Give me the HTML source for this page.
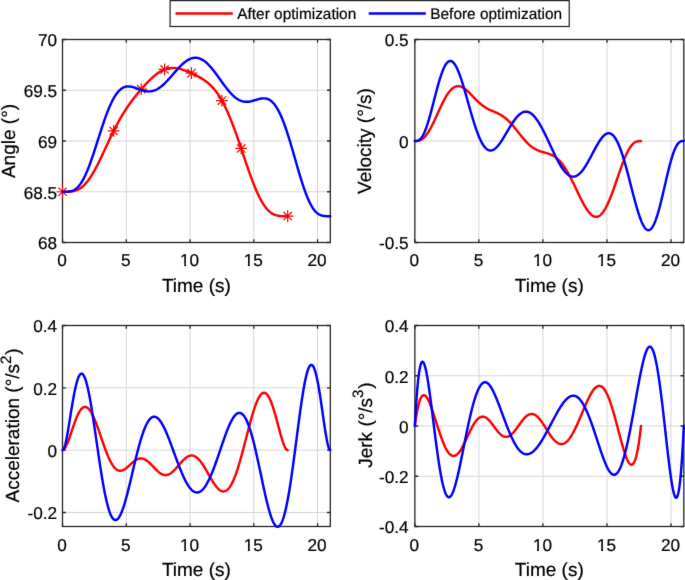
<!DOCTYPE html>
<html><head><meta charset="utf-8"><title>Trajectory optimization</title><style>
html,body{margin:0;padding:0;background:#fff;}
body{width:685px;height:580px;overflow:hidden;}
svg{display:block;will-change:transform;}
text{font-family:"Liberation Sans",sans-serif;fill:#000000;stroke:#000000;stroke-width:0.2px;text-rendering:geometricPrecision;}
</style></head><body>
<svg width="685" height="580" viewBox="0 0 685 580" font-size="17.2">
<defs><filter id="soft" x="0" y="0" width="685" height="580" filterUnits="userSpaceOnUse" color-interpolation-filters="sRGB"><feConvolveMatrix order="3" kernelMatrix="0.0052 0.0619 0.0052 0.0619 0.7314 0.0619 0.0052 0.0619 0.0052" edgeMode="duplicate" preserveAlpha="true"/></filter></defs>
<g filter="url(#soft)">
<rect width="685" height="580" fill="#fff"/>
<clipPath id="c0"><rect x="60.0" y="37.0" width="272.8" height="208.0"/></clipPath>
<line x1="126.3" y1="39.5" x2="126.3" y2="242.5" stroke="#d6d6d6"/>
<line x1="190.05" y1="39.5" x2="190.05" y2="242.5" stroke="#d6d6d6"/>
<line x1="253.8" y1="39.5" x2="253.8" y2="242.5" stroke="#d6d6d6"/>
<line x1="317.55" y1="39.5" x2="317.55" y2="242.5" stroke="#d6d6d6"/>
<line x1="62.5" y1="191.75" x2="330.3" y2="191.75" stroke="#d6d6d6"/>
<line x1="62.5" y1="141" x2="330.3" y2="141" stroke="#d6d6d6"/>
<line x1="62.5" y1="90.25" x2="330.3" y2="90.25" stroke="#d6d6d6"/>
<rect x="62.5" y="39.5" width="267.8" height="203.0" fill="none" stroke="#262626" stroke-width="1.3"/>
<text x="62.1" y="265.6" text-anchor="middle">0</text>
<text x="125.85" y="265.6" text-anchor="middle">5</text>
<text x="189.6" y="265.6" text-anchor="middle">10</text>
<text x="253.35" y="265.6" text-anchor="middle">15</text>
<text x="317.1" y="265.6" text-anchor="middle">20</text>
<text x="57.15" y="249.4" text-anchor="end">68</text>
<text x="57.15" y="198.7" text-anchor="end">68.5</text>
<text x="57.15" y="147.9" text-anchor="end">69</text>
<text x="57.15" y="97.2" text-anchor="end">69.5</text>
<text x="57.15" y="46.4" text-anchor="end">70</text>
<path d="M62.55,242.5v-3.3M62.55,39.5v3.3M126.3,242.5v-3.3M126.3,39.5v3.3M190.05,242.5v-3.3M190.05,39.5v3.3M253.8,242.5v-3.3M253.8,39.5v3.3M317.55,242.5v-3.3M317.55,39.5v3.3M62.5,242.5h3.3M330.3,242.5h-3.3M62.5,191.75h3.3M330.3,191.75h-3.3M62.5,141h3.3M330.3,141h-3.3M62.5,90.25h3.3M330.3,90.25h-3.3M62.5,39.5h3.3M330.3,39.5h-3.3" stroke="#262626" stroke-width="1.3" fill="none"/>
<text x="196.4" y="291.6" text-anchor="middle" font-size="19.0">Time (s)</text>
<text transform="translate(14.75,141.0) rotate(-90)" text-anchor="middle" font-size="19.0">Angle (°)</text>
<path d="M62.55,191.75 63.00,191.75 63.45,191.75 63.90,191.75 64.35,191.75 64.81,191.75 65.26,191.75 65.71,191.74 66.16,191.74 66.61,191.73 67.06,191.73 67.51,191.72 67.96,191.70 68.41,191.69 68.87,191.67 69.32,191.64 69.77,191.61 70.22,191.58 70.67,191.54 71.12,191.49 71.57,191.43 72.02,191.37 72.48,191.30 72.93,191.22 73.38,191.13 73.83,191.04 74.28,190.93 74.73,190.81 75.18,190.68 75.63,190.54 76.08,190.38 76.54,190.21 76.99,190.03 77.44,189.84 77.89,189.63 78.34,189.41 78.79,189.17 79.24,188.91 79.69,188.64 80.14,188.36 80.60,188.06 81.05,187.74 81.50,187.41 81.95,187.06 82.40,186.69 82.85,186.30 83.30,185.90 83.75,185.48 84.20,185.05 84.66,184.59 85.11,184.12 85.56,183.63 86.01,183.12 86.46,182.60 86.91,182.05 87.36,181.49 87.81,180.91 88.26,180.32 88.72,179.71 89.17,179.08 89.62,178.44 90.07,177.77 90.52,177.10 90.97,176.40 91.42,175.69 91.87,174.97 92.33,174.23 92.78,173.48 93.23,172.71 93.68,171.93 94.13,171.13 94.58,170.33 95.03,169.51 95.48,168.67 95.93,167.83 96.39,166.98 96.84,166.11 97.29,165.23 97.74,164.35 98.19,163.45 98.64,162.55 99.09,161.64 99.54,160.72 99.99,159.79 100.45,158.86 100.90,157.92 101.35,156.98 101.80,156.03 102.25,155.07 102.70,154.12 103.15,153.16 103.60,152.19 104.05,151.23 104.51,150.26 104.96,149.29 105.41,148.32 105.86,147.35 106.31,146.38 106.76,145.41 107.21,144.44 107.66,143.47 108.11,142.51 108.57,141.55 109.02,140.59 109.47,139.63 109.92,138.68 110.37,137.74 110.82,136.79 111.27,135.85 111.72,134.92 112.18,133.99 112.63,133.07 113.08,132.16 113.53,131.25 113.98,130.35 114.43,129.45 114.88,128.56 115.33,127.68 115.78,126.81 116.24,125.94 116.69,125.08 117.14,124.23 117.59,123.39 118.04,122.56 118.49,121.73 118.94,120.91 119.39,120.10 119.84,119.30 120.30,118.51 120.75,117.72 121.20,116.95 121.65,116.18 122.10,115.42 122.55,114.67 123.00,113.93 123.45,113.19 123.90,112.47 124.36,111.75 124.81,111.04 125.26,110.34 125.71,109.64 126.16,108.95 126.61,108.27 127.06,107.60 127.51,106.93 127.96,106.27 128.42,105.62 128.87,104.97 129.32,104.33 129.77,103.70 130.22,103.07 130.67,102.45 131.12,101.84 131.57,101.23 132.03,100.62 132.48,100.02 132.93,99.43 133.38,98.84 133.83,98.25 134.28,97.67 134.73,97.10 135.18,96.53 135.63,95.96 136.09,95.40 136.54,94.84 136.99,94.28 137.44,93.73 137.89,93.18 138.34,92.64 138.79,92.10 139.24,91.56 139.69,91.03 140.15,90.50 140.60,89.97 141.05,89.45 141.50,88.93 141.95,88.42 142.40,87.90 142.85,87.39 143.30,86.89 143.75,86.39 144.21,85.89 144.66,85.39 145.11,84.90 145.56,84.41 146.01,83.93 146.46,83.45 146.91,82.97 147.36,82.50 147.81,82.04 148.27,81.58 148.72,81.12 149.17,80.67 149.62,80.22 150.07,79.78 150.52,79.34 150.97,78.91 151.42,78.48 151.88,78.07 152.33,77.65 152.78,77.25 153.23,76.85 153.68,76.45 154.13,76.07 154.58,75.69 155.03,75.31 155.48,74.95 155.94,74.59 156.39,74.24 156.84,73.90 157.29,73.57 157.74,73.25 158.19,72.93 158.64,72.62 159.09,72.33 159.54,72.04 160.00,71.76 160.45,71.49 160.90,71.22 161.35,70.97 161.80,70.73 162.25,70.50 162.70,70.28 163.15,70.07 163.60,69.86 164.06,69.67 164.51,69.49 164.96,69.32 165.41,69.15 165.86,69.00 166.31,68.86 166.76,68.73 167.21,68.61 167.66,68.50 168.12,68.40 168.57,68.30 169.02,68.22 169.47,68.15 169.92,68.09 170.37,68.04 170.82,68.00 171.27,67.96 171.73,67.94 172.18,67.92 172.63,67.92 173.08,67.92 173.53,67.93 173.98,67.95 174.43,67.98 174.88,68.02 175.33,68.06 175.79,68.11 176.24,68.17 176.69,68.24 177.14,68.31 177.59,68.39 178.04,68.48 178.49,68.57 178.94,68.67 179.39,68.78 179.85,68.89 180.30,69.01 180.75,69.13 181.20,69.26 181.65,69.39 182.10,69.53 182.55,69.68 183.00,69.82 183.45,69.97 183.91,70.13 184.36,70.29 184.81,70.45 185.26,70.62 185.71,70.79 186.16,70.96 186.61,71.14 187.06,71.31 187.51,71.50 187.97,71.68 188.42,71.87 188.87,72.06 189.32,72.25 189.77,72.44 190.22,72.64 190.67,72.84 191.12,73.04 191.58,73.24 192.03,73.44 192.48,73.65 192.93,73.86 193.38,74.07 193.83,74.29 194.28,74.50 194.73,74.72 195.18,74.94 195.64,75.17 196.09,75.39 196.54,75.62 196.99,75.85 197.44,76.09 197.89,76.33 198.34,76.57 198.79,76.81 199.24,77.06 199.70,77.32 200.15,77.57 200.60,77.84 201.05,78.10 201.50,78.37 201.95,78.65 202.40,78.93 202.85,79.22 203.30,79.51 203.76,79.81 204.21,80.12 204.66,80.43 205.11,80.75 205.56,81.08 206.01,81.42 206.46,81.76 206.91,82.11 207.36,82.48 207.82,82.85 208.27,83.22 208.72,83.61 209.17,84.01 209.62,84.42 210.07,84.84 210.52,85.27 210.97,85.71 211.43,86.17 211.88,86.63 212.33,87.11 212.78,87.60 213.23,88.11 213.68,88.62 214.13,89.15 214.58,89.69 215.03,90.25 215.49,90.82 215.94,91.41 216.39,92.01 216.84,92.63 217.29,93.26 217.74,93.90 218.19,94.56 218.64,95.24 219.09,95.93 219.55,96.64 220.00,97.37 220.45,98.11 220.90,98.87 221.35,99.64 221.80,100.43 222.25,101.24 222.70,102.07 223.15,102.91 223.61,103.77 224.06,104.64 224.51,105.54 224.96,106.45 225.41,107.37 225.86,108.31 226.31,109.27 226.76,110.25 227.21,111.24 227.67,112.25 228.12,113.27 228.57,114.31 229.02,115.37 229.47,116.44 229.92,117.52 230.37,118.63 230.82,119.74 231.28,120.87 231.73,122.02 232.18,123.17 232.63,124.34 233.08,125.53 233.53,126.73 233.98,127.93 234.43,129.16 234.88,130.39 235.34,131.63 235.79,132.88 236.24,134.15 236.69,135.42 237.14,136.70 237.59,137.99 238.04,139.29 238.49,140.59 238.94,141.90 239.40,143.22 239.85,144.54 240.30,145.87 240.75,147.20 241.20,148.53 241.65,149.87 242.10,151.21 242.55,152.55 243.00,153.89 243.46,155.23 243.91,156.57 244.36,157.91 244.81,159.25 245.26,160.58 245.71,161.91 246.16,163.24 246.61,164.56 247.06,165.88 247.52,167.18 247.97,168.49 248.42,169.78 248.87,171.07 249.32,172.34 249.77,173.61 250.22,174.87 250.67,176.11 251.13,177.35 251.58,178.57 252.03,179.77 252.48,180.97 252.93,182.14 253.38,183.31 253.83,184.46 254.28,185.59 254.73,186.70 255.19,187.80 255.64,188.88 256.09,189.94 256.54,190.98 256.99,192.00 257.44,193.00 257.89,193.98 258.34,194.95 258.79,195.89 259.25,196.81 259.70,197.70 260.15,198.58 260.60,199.43 261.05,200.26 261.50,201.07 261.95,201.85 262.40,202.61 262.85,203.35 263.31,204.07 263.76,204.76 264.21,205.43 264.66,206.07 265.11,206.69 265.56,207.29 266.01,207.87 266.46,208.42 266.92,208.95 267.37,209.45 267.82,209.94 268.27,210.40 268.72,210.84 269.17,211.26 269.62,211.65 270.07,212.03 270.52,212.38 270.98,212.72 271.43,213.03 271.88,213.33 272.33,213.60 272.78,213.86 273.23,214.10 273.68,214.32 274.13,214.53 274.58,214.72 275.04,214.90 275.49,215.06 275.94,215.20 276.39,215.34 276.84,215.46 277.29,215.56 277.74,215.66 278.19,215.75 278.64,215.82 279.10,215.89 279.55,215.95 280.00,216.00 280.45,216.04 280.90,216.08 281.35,216.11 281.80,216.13 282.25,216.15 282.70,216.17 283.16,216.18 283.61,216.19 284.06,216.19 284.51,216.20 284.96,216.20 285.41,216.20 285.86,216.20 286.31,216.20 286.77,216.20 287.22,216.20 287.67,216.20" fill="none" stroke="#ff0000" stroke-width="2.45" stroke-linejoin="round" stroke-linecap="round" clip-path="url(#c0)"/>
<path d="M56.65,191.75h11.80M62.55,185.85v11.80M58.38,187.58l8.34,8.34M58.38,195.92l8.34,-8.34M107.77,130.96h11.80M113.67,125.06v11.80M109.50,126.78l8.34,8.34M109.50,135.13l8.34,-8.34M135.35,89.22h11.80M141.25,83.32v11.80M137.08,85.04l8.34,8.34M137.08,93.39l8.34,-8.34M158.69,69.46h11.80M164.59,63.56v11.80M160.42,65.29l8.34,8.34M160.42,73.63l8.34,-8.34M185.56,73.19h11.80M191.46,67.29v11.80M187.28,69.01l8.34,8.34M187.28,77.36l8.34,-8.34M215.96,100.54h11.80M221.86,94.64v11.80M217.69,96.37l8.34,8.34M217.69,104.71l8.34,-8.34M235.26,148.41h11.80M241.16,142.51v11.80M236.99,144.23l8.34,8.34M236.99,152.58l8.34,-8.34M281.77,216.20h11.80M287.67,210.30v11.80M283.50,212.03l8.34,8.34M283.50,220.38l8.34,-8.34" stroke="#ff0000" stroke-width="1.2" fill="none"/>
<path d="M62.55,191.75 63.09,191.75 63.62,191.75 64.16,191.75 64.70,191.75 65.23,191.74 65.77,191.74 66.31,191.72 66.84,191.70 67.38,191.68 67.92,191.64 68.45,191.60 68.99,191.54 69.53,191.47 70.06,191.38 70.60,191.27 71.14,191.14 71.67,190.99 72.21,190.81 72.74,190.61 73.28,190.38 73.82,190.12 74.35,189.83 74.89,189.50 75.43,189.15 75.96,188.75 76.50,188.32 77.04,187.85 77.57,187.34 78.11,186.79 78.65,186.19 79.18,185.56 79.72,184.88 80.26,184.16 80.79,183.40 81.33,182.59 81.87,181.74 82.40,180.84 82.94,179.90 83.48,178.91 84.01,177.89 84.55,176.82 85.09,175.70 85.62,174.55 86.16,173.36 86.70,172.12 87.23,170.85 87.77,169.54 88.31,168.20 88.84,166.82 89.38,165.40 89.92,163.96 90.45,162.49 90.99,160.99 91.52,159.46 92.06,157.91 92.60,156.33 93.13,154.74 93.67,153.12 94.21,151.49 94.74,149.85 95.28,148.19 95.82,146.53 96.35,144.85 96.89,143.17 97.43,141.49 97.96,139.80 98.50,138.12 99.04,136.44 99.57,134.76 100.11,133.09 100.65,131.43 101.18,129.78 101.72,128.14 102.26,126.52 102.79,124.91 103.33,123.32 103.87,121.76 104.40,120.21 104.94,118.69 105.48,117.19 106.01,115.72 106.55,114.28 107.09,112.86 107.62,111.48 108.16,110.13 108.70,108.81 109.23,107.53 109.77,106.28 110.31,105.07 110.84,103.89 111.38,102.75 111.91,101.65 112.45,100.59 112.99,99.57 113.52,98.58 114.06,97.64 114.60,96.74 115.13,95.87 115.67,95.05 116.21,94.27 116.74,93.53 117.28,92.82 117.82,92.16 118.35,91.54 118.89,90.95 119.43,90.41 119.96,89.90 120.50,89.43 121.04,89.00 121.57,88.61 122.11,88.25 122.65,87.92 123.18,87.63 123.72,87.38 124.26,87.15 124.79,86.96 125.33,86.80 125.87,86.67 126.40,86.56 126.94,86.48 127.48,86.43 128.01,86.40 128.55,86.40 129.09,86.42 129.62,86.46 130.16,86.52 130.69,86.60 131.23,86.69 131.77,86.80 132.30,86.93 132.84,87.07 133.38,87.22 133.91,87.38 134.45,87.55 134.99,87.73 135.52,87.92 136.06,88.11 136.60,88.30 137.13,88.50 137.67,88.70 138.21,88.90 138.74,89.10 139.28,89.30 139.82,89.49 140.35,89.69 140.89,89.87 141.43,90.05 141.96,90.22 142.50,90.39 143.04,90.54 143.57,90.69 144.11,90.82 144.65,90.94 145.18,91.05 145.72,91.15 146.26,91.23 146.79,91.30 147.33,91.35 147.87,91.39 148.40,91.41 148.94,91.41 149.47,91.40 150.01,91.37 150.55,91.32 151.08,91.25 151.62,91.16 152.16,91.06 152.69,90.94 153.23,90.79 153.77,90.63 154.30,90.45 154.84,90.25 155.38,90.03 155.91,89.79 156.45,89.53 156.99,89.25 157.52,88.96 158.06,88.64 158.60,88.31 159.13,87.96 159.67,87.59 160.21,87.20 160.74,86.80 161.28,86.38 161.82,85.95 162.35,85.50 162.89,85.03 163.43,84.55 163.96,84.06 164.50,83.55 165.04,83.03 165.57,82.50 166.11,81.96 166.65,81.41 167.18,80.85 167.72,80.28 168.25,79.70 168.79,79.11 169.33,78.52 169.86,77.92 170.40,77.31 170.94,76.70 171.47,76.09 172.01,75.48 172.55,74.86 173.08,74.24 173.62,73.63 174.16,73.01 174.69,72.39 175.23,71.78 175.77,71.17 176.30,70.57 176.84,69.97 177.38,69.37 177.91,68.79 178.45,68.21 178.99,67.63 179.52,67.07 180.06,66.52 180.60,65.98 181.13,65.45 181.67,64.93 182.21,64.42 182.74,63.93 183.28,63.45 183.82,62.99 184.35,62.54 184.89,62.11 185.43,61.70 185.96,61.31 186.50,60.93 187.03,60.57 187.57,60.23 188.11,59.91 188.64,59.61 189.18,59.33 189.72,59.08 190.25,58.84 190.79,58.63 191.33,58.44 191.86,58.27 192.40,58.12 192.94,58.00 193.47,57.90 194.01,57.83 194.55,57.78 195.08,57.75 195.62,57.75 196.16,57.77 196.69,57.82 197.23,57.89 197.77,57.98 198.30,58.10 198.84,58.24 199.38,58.41 199.91,58.61 200.45,58.82 200.99,59.06 201.52,59.32 202.06,59.61 202.60,59.92 203.13,60.25 203.67,60.61 204.21,60.99 204.74,61.39 205.28,61.81 205.82,62.25 206.35,62.71 206.89,63.19 207.42,63.69 207.96,64.21 208.50,64.75 209.03,65.30 209.57,65.87 210.11,66.46 210.64,67.07 211.18,67.68 211.72,68.32 212.25,68.96 212.79,69.62 213.33,70.30 213.86,70.98 214.40,71.67 214.94,72.37 215.47,73.08 216.01,73.80 216.55,74.53 217.08,75.26 217.62,76.00 218.16,76.74 218.69,77.48 219.23,78.23 219.77,78.98 220.30,79.73 220.84,80.48 221.38,81.23 221.91,81.97 222.45,82.72 222.99,83.46 223.52,84.19 224.06,84.92 224.60,85.64 225.13,86.36 225.67,87.07 226.20,87.76 226.74,88.45 227.28,89.13 227.81,89.79 228.35,90.45 228.89,91.09 229.42,91.71 229.96,92.33 230.50,92.92 231.03,93.51 231.57,94.07 232.11,94.62 232.64,95.15 233.18,95.66 233.72,96.15 234.25,96.63 234.79,97.08 235.33,97.52 235.86,97.93 236.40,98.32 236.94,98.70 237.47,99.05 238.01,99.38 238.55,99.69 239.08,99.98 239.62,100.24 240.16,100.49 240.69,100.71 241.23,100.92 241.77,101.10 242.30,101.26 242.84,101.39 243.38,101.51 243.91,101.61 244.45,101.69 244.98,101.75 245.52,101.79 246.06,101.81 246.59,101.82 247.13,101.80 247.67,101.77 248.20,101.73 248.74,101.67 249.28,101.59 249.81,101.51 250.35,101.41 250.89,101.30 251.42,101.17 251.96,101.04 252.50,100.91 253.03,100.76 253.57,100.61 254.11,100.45 254.64,100.29 255.18,100.13 255.72,99.96 256.25,99.80 256.79,99.64 257.33,99.48 257.86,99.33 258.40,99.18 258.94,99.04 259.47,98.91 260.01,98.79 260.55,98.68 261.08,98.58 261.62,98.50 262.16,98.43 262.69,98.38 263.23,98.35 263.76,98.35 264.30,98.36 264.84,98.40 265.37,98.46 265.91,98.54 266.45,98.66 266.98,98.80 267.52,98.98 268.06,99.18 268.59,99.42 269.13,99.69 269.67,99.99 270.20,100.34 270.74,100.71 271.28,101.13 271.81,101.58 272.35,102.08 272.89,102.61 273.42,103.19 273.96,103.81 274.50,104.47 275.03,105.17 275.57,105.92 276.11,106.71 276.64,107.54 277.18,108.42 277.72,109.34 278.25,110.30 278.79,111.31 279.33,112.37 279.86,113.46 280.40,114.61 280.94,115.79 281.47,117.02 282.01,118.29 282.54,119.60 283.08,120.95 283.62,122.34 284.15,123.77 284.69,125.23 285.23,126.74 285.76,128.27 286.30,129.85 286.84,131.45 287.37,133.09 287.91,134.75 288.45,136.45 288.98,138.17 289.52,139.91 290.06,141.68 290.59,143.47 291.13,145.27 291.67,147.09 292.20,148.93 292.74,150.78 293.28,152.64 293.81,154.51 294.35,156.38 294.89,158.26 295.42,160.13 295.96,162.01 296.50,163.88 297.03,165.74 297.57,167.60 298.11,169.45 298.64,171.28 299.18,173.09 299.72,174.89 300.25,176.67 300.79,178.43 301.33,180.16 301.86,181.86 302.40,183.53 302.93,185.18 303.47,186.79 304.01,188.36 304.54,189.90 305.08,191.40 305.62,192.86 306.15,194.28 306.69,195.66 307.23,196.99 307.76,198.28 308.30,199.52 308.84,200.72 309.37,201.86 309.91,202.96 310.45,204.01 310.98,205.01 311.52,205.97 312.06,206.87 312.59,207.72 313.13,208.53 313.67,209.29 314.20,209.99 314.74,210.66 315.28,211.27 315.81,211.84 316.35,212.37 316.89,212.85 317.42,213.29 317.96,213.69 318.50,214.06 319.03,214.38 319.57,214.67 320.11,214.93 320.64,215.15 321.18,215.35 321.71,215.52 322.25,215.66 322.79,215.79 323.32,215.89 323.86,215.97 324.40,216.04 324.93,216.09 325.47,216.13 326.01,216.15 326.54,216.17 327.08,216.19 327.62,216.20 328.15,216.20 328.69,216.20 329.23,216.20 329.76,216.20 330.30,216.20" fill="none" stroke="#0000ff" stroke-width="2.45" stroke-linejoin="round" stroke-linecap="round" clip-path="url(#c0)"/>
<clipPath id="c1"><rect x="412.35" y="37.0" width="273.94999999999993" height="208.0"/></clipPath>
<line x1="478.89" y1="39.5" x2="478.89" y2="242.5" stroke="#d6d6d6"/>
<line x1="542.92" y1="39.5" x2="542.92" y2="242.5" stroke="#d6d6d6"/>
<line x1="606.96" y1="39.5" x2="606.96" y2="242.5" stroke="#d6d6d6"/>
<line x1="670.99" y1="39.5" x2="670.99" y2="242.5" stroke="#d6d6d6"/>
<line x1="414.85" y1="141" x2="683.8" y2="141" stroke="#d6d6d6"/>
<rect x="414.85" y="39.5" width="268.94999999999993" height="203.0" fill="none" stroke="#262626" stroke-width="1.3"/>
<text x="414.4" y="265.6" text-anchor="middle">0</text>
<text x="478.44" y="265.6" text-anchor="middle">5</text>
<text x="542.47" y="265.6" text-anchor="middle">10</text>
<text x="606.51" y="265.6" text-anchor="middle">15</text>
<text x="670.54" y="265.6" text-anchor="middle">20</text>
<text x="408.55" y="249.4" text-anchor="end">-0.5</text>
<text x="408.55" y="147.9" text-anchor="end">0</text>
<text x="408.55" y="46.4" text-anchor="end">0.5</text>
<path d="M414.85,242.5v-3.3M414.85,39.5v3.3M478.89,242.5v-3.3M478.89,39.5v3.3M542.92,242.5v-3.3M542.92,39.5v3.3M606.96,242.5v-3.3M606.96,39.5v3.3M670.99,242.5v-3.3M670.99,39.5v3.3M414.85,242.5h3.3M683.8,242.5h-3.3M414.85,141h3.3M683.8,141h-3.3M414.85,39.5h3.3M683.8,39.5h-3.3" stroke="#262626" stroke-width="1.3" fill="none"/>
<text x="549.3" y="291.6" text-anchor="middle" font-size="19.0">Time (s)</text>
<text transform="translate(371.00,141.0) rotate(-90)" text-anchor="middle" font-size="19.0">Velocity (°/s)</text>
<path d="M414.85,141.00 415.30,141.00 415.76,141.00 416.21,140.98 416.66,140.96 417.12,140.93 417.57,140.88 418.02,140.82 418.48,140.74 418.93,140.63 419.38,140.50 419.83,140.35 420.29,140.17 420.74,139.97 421.19,139.73 421.65,139.47 422.10,139.18 422.55,138.85 423.01,138.50 423.46,138.12 423.91,137.70 424.37,137.26 424.82,136.78 425.27,136.27 425.73,135.73 426.18,135.16 426.63,134.57 427.09,133.94 427.54,133.28 427.99,132.60 428.44,131.89 428.90,131.15 429.35,130.39 429.80,129.61 430.26,128.80 430.71,127.97 431.16,127.12 431.62,126.25 432.07,125.36 432.52,124.45 432.98,123.54 433.43,122.60 433.88,121.65 434.34,120.70 434.79,119.73 435.24,118.75 435.70,117.77 436.15,116.78 436.60,115.79 437.05,114.79 437.51,113.80 437.96,112.80 438.41,111.81 438.87,110.81 439.32,109.83 439.77,108.85 440.23,107.87 440.68,106.91 441.13,105.95 441.59,105.01 442.04,104.08 442.49,103.16 442.95,102.26 443.40,101.37 443.85,100.50 444.31,99.65 444.76,98.82 445.21,98.01 445.66,97.22 446.12,96.45 446.57,95.71 447.02,94.99 447.48,94.29 447.93,93.62 448.38,92.98 448.84,92.36 449.29,91.77 449.74,91.21 450.20,90.68 450.65,90.17 451.10,89.70 451.56,89.25 452.01,88.84 452.46,88.45 452.92,88.10 453.37,87.77 453.82,87.48 454.27,87.21 454.73,86.98 455.18,86.77 455.63,86.60 456.09,86.45 456.54,86.34 456.99,86.25 457.45,86.19 457.90,86.17 458.35,86.16 458.81,86.19 459.26,86.25 459.71,86.32 460.17,86.43 460.62,86.56 461.07,86.72 461.53,86.90 461.98,87.10 462.43,87.32 462.88,87.57 463.34,87.83 463.79,88.12 464.24,88.42 464.70,88.74 465.15,89.08 465.60,89.43 466.06,89.80 466.51,90.18 466.96,90.58 467.42,90.98 467.87,91.40 468.32,91.83 468.78,92.27 469.23,92.71 469.68,93.16 470.14,93.62 470.59,94.08 471.04,94.55 471.49,95.02 471.95,95.49 472.40,95.96 472.85,96.44 473.31,96.91 473.76,97.38 474.21,97.86 474.67,98.32 475.12,98.79 475.57,99.25 476.03,99.71 476.48,100.16 476.93,100.61 477.39,101.05 477.84,101.48 478.29,101.91 478.75,102.32 479.20,102.74 479.65,103.14 480.10,103.53 480.56,103.92 481.01,104.29 481.46,104.66 481.92,105.02 482.37,105.37 482.82,105.70 483.28,106.03 483.73,106.35 484.18,106.66 484.64,106.97 485.09,107.26 485.54,107.54 486.00,107.82 486.45,108.08 486.90,108.34 487.36,108.59 487.81,108.84 488.26,109.07 488.71,109.30 489.17,109.53 489.62,109.74 490.07,109.96 490.53,110.16 490.98,110.37 491.43,110.57 491.89,110.77 492.34,110.96 492.79,111.15 493.25,111.35 493.70,111.54 494.15,111.73 494.61,111.92 495.06,112.12 495.51,112.31 495.97,112.51 496.42,112.71 496.87,112.92 497.32,113.13 497.78,113.34 498.23,113.56 498.68,113.79 499.14,114.02 499.59,114.26 500.04,114.51 500.50,114.76 500.95,115.03 501.40,115.30 501.86,115.58 502.31,115.87 502.76,116.17 503.22,116.48 503.67,116.80 504.12,117.14 504.58,117.48 505.03,117.83 505.48,118.20 505.93,118.57 506.39,118.96 506.84,119.35 507.29,119.76 507.75,120.18 508.20,120.61 508.65,121.05 509.11,121.50 509.56,121.96 510.01,122.43 510.47,122.91 510.92,123.40 511.37,123.90 511.83,124.41 512.28,124.92 512.73,125.45 513.19,125.98 513.64,126.51 514.09,127.06 514.54,127.61 515.00,128.16 515.45,128.72 515.90,129.28 516.36,129.85 516.81,130.42 517.26,130.99 517.72,131.56 518.17,132.14 518.62,132.71 519.08,133.28 519.53,133.86 519.98,134.43 520.44,134.99 520.89,135.56 521.34,136.12 521.80,136.68 522.25,137.23 522.70,137.78 523.15,138.32 523.61,138.85 524.06,139.38 524.51,139.90 524.97,140.41 525.42,140.91 525.87,141.40 526.33,141.89 526.78,142.36 527.23,142.82 527.69,143.28 528.14,143.72 528.59,144.15 529.05,144.57 529.50,144.98 529.95,145.37 530.41,145.76 530.86,146.13 531.31,146.49 531.76,146.84 532.22,147.17 532.67,147.50 533.12,147.81 533.58,148.11 534.03,148.40 534.48,148.67 534.94,148.94 535.39,149.19 535.84,149.43 536.30,149.66 536.75,149.89 537.20,150.10 537.66,150.30 538.11,150.49 538.56,150.68 539.02,150.85 539.47,151.02 539.92,151.18 540.37,151.33 540.83,151.48 541.28,151.63 541.73,151.76 542.19,151.90 542.64,152.03 543.09,152.15 543.55,152.28 544.00,152.40 544.45,152.53 544.91,152.65 545.36,152.77 545.81,152.90 546.27,153.02 546.72,153.15 547.17,153.29 547.63,153.42 548.08,153.57 548.53,153.72 548.99,153.87 549.44,154.03 549.89,154.20 550.34,154.38 550.80,154.57 551.25,154.77 551.70,154.98 552.16,155.20 552.61,155.43 553.06,155.68 553.52,155.93 553.97,156.20 554.42,156.49 554.88,156.79 555.33,157.10 555.78,157.43 556.24,157.78 556.69,158.14 557.14,158.52 557.60,158.91 558.05,159.32 558.50,159.75 558.95,160.20 559.41,160.67 559.86,161.15 560.31,161.65 560.77,162.17 561.22,162.71 561.67,163.26 562.13,163.84 562.58,164.43 563.03,165.04 563.49,165.67 563.94,166.31 564.39,166.98 564.85,167.66 565.30,168.36 565.75,169.08 566.21,169.81 566.66,170.56 567.11,171.32 567.56,172.10 568.02,172.90 568.47,173.71 568.92,174.53 569.38,175.37 569.83,176.22 570.28,177.08 570.74,177.95 571.19,178.84 571.64,179.73 572.10,180.63 572.55,181.55 573.00,182.47 573.46,183.39 573.91,184.33 574.36,185.27 574.82,186.21 575.27,187.16 575.72,188.11 576.17,189.06 576.63,190.01 577.08,190.96 577.53,191.91 577.99,192.86 578.44,193.80 578.89,194.74 579.35,195.67 579.80,196.60 580.25,197.52 580.71,198.43 581.16,199.33 581.61,200.23 582.07,201.10 582.52,201.97 582.97,202.82 583.43,203.66 583.88,204.48 584.33,205.28 584.78,206.06 585.24,206.83 585.69,207.57 586.14,208.29 586.60,208.99 587.05,209.67 587.50,210.32 587.96,210.94 588.41,211.54 588.86,212.11 589.32,212.66 589.77,213.17 590.22,213.65 590.68,214.10 591.13,214.52 591.58,214.91 592.04,215.26 592.49,215.58 592.94,215.86 593.39,216.11 593.85,216.32 594.30,216.50 594.75,216.63 595.21,216.73 595.66,216.79 596.11,216.81 596.57,216.79 597.02,216.74 597.47,216.64 597.93,216.50 598.38,216.32 598.83,216.10 599.29,215.84 599.74,215.54 600.19,215.20 600.65,214.82 601.10,214.40 601.55,213.94 602.00,213.43 602.46,212.89 602.91,212.31 603.36,211.69 603.82,211.04 604.27,210.34 604.72,209.61 605.18,208.84 605.63,208.03 606.08,207.19 606.54,206.32 606.99,205.41 607.44,204.47 607.90,203.50 608.35,202.50 608.80,201.47 609.26,200.41 609.71,199.33 610.16,198.21 610.61,197.08 611.07,195.92 611.52,194.74 611.97,193.54 612.43,192.32 612.88,191.08 613.33,189.83 613.79,188.56 614.24,187.28 614.69,185.99 615.15,184.69 615.60,183.39 616.05,182.07 616.51,180.75 616.96,179.43 617.41,178.11 617.87,176.79 618.32,175.47 618.77,174.16 619.22,172.85 619.68,171.55 620.13,170.25 620.58,168.97 621.04,167.71 621.49,166.45 621.94,165.22 622.40,164.00 622.85,162.80 623.30,161.62 623.76,160.47 624.21,159.34 624.66,158.23 625.12,157.16 625.57,156.11 626.02,155.09 626.48,154.10 626.93,153.15 627.38,152.22 627.83,151.33 628.29,150.48 628.74,149.67 629.19,148.89 629.65,148.14 630.10,147.44 630.55,146.77 631.01,146.15 631.46,145.56 631.91,145.01 632.37,144.50 632.82,144.03 633.27,143.60 633.73,143.21 634.18,142.85 634.63,142.53 635.09,142.25 635.54,142.00 635.99,141.78 636.44,141.60 636.90,141.44 637.35,141.32 637.80,141.22 638.26,141.14 638.71,141.08 639.16,141.04 639.62,141.02 640.07,141.01 640.52,141.00 640.98,141.00" fill="none" stroke="#ff0000" stroke-width="2.45" stroke-linejoin="round" stroke-linecap="round" clip-path="url(#c1)"/>
<path d="M414.85,141.00 415.39,141.00 415.93,140.98 416.47,140.94 417.01,140.86 417.54,140.73 418.08,140.54 418.62,140.29 419.16,139.97 419.70,139.57 420.24,139.09 420.78,138.53 421.32,137.87 421.86,137.13 422.40,136.29 422.93,135.37 423.47,134.35 424.01,133.24 424.55,132.04 425.09,130.75 425.63,129.38 426.17,127.92 426.71,126.39 427.25,124.79 427.79,123.11 428.32,121.37 428.86,119.56 429.40,117.71 429.94,115.80 430.48,113.85 431.02,111.85 431.56,109.83 432.10,107.78 432.64,105.71 433.18,103.62 433.71,101.53 434.25,99.43 434.79,97.34 435.33,95.26 435.87,93.19 436.41,91.14 436.95,89.13 437.49,87.14 438.03,85.20 438.57,83.30 439.10,81.45 439.64,79.66 440.18,77.92 440.72,76.25 441.26,74.65 441.80,73.12 442.34,71.67 442.88,70.30 443.42,69.01 443.95,67.81 444.49,66.69 445.03,65.68 445.57,64.75 446.11,63.92 446.65,63.19 447.19,62.56 447.73,62.03 448.27,61.60 448.81,61.27 449.34,61.05 449.88,60.93 450.42,60.90 450.96,60.98 451.50,61.16 452.04,61.44 452.58,61.82 453.12,62.29 453.66,62.85 454.20,63.51 454.73,64.26 455.27,65.09 455.81,66.01 456.35,67.01 456.89,68.09 457.43,69.25 457.97,70.47 458.51,71.77 459.05,73.14 459.59,74.56 460.12,76.05 460.66,77.59 461.20,79.18 461.74,80.82 462.28,82.50 462.82,84.23 463.36,85.99 463.90,87.78 464.44,89.60 464.97,91.45 465.51,93.32 466.05,95.20 466.59,97.10 467.13,99.01 467.67,100.93 468.21,102.84 468.75,104.76 469.29,106.67 469.83,108.57 470.36,110.46 470.90,112.33 471.44,114.19 471.98,116.03 472.52,117.84 473.06,119.62 473.60,121.37 474.14,123.09 474.68,124.77 475.22,126.42 475.75,128.02 476.29,129.58 476.83,131.10 477.37,132.57 477.91,133.99 478.45,135.36 478.99,136.67 479.53,137.93 480.07,139.14 480.61,140.28 481.14,141.37 481.68,142.40 482.22,143.37 482.76,144.28 483.30,145.13 483.84,145.92 484.38,146.64 484.92,147.30 485.46,147.90 486.00,148.44 486.53,148.91 487.07,149.33 487.61,149.68 488.15,149.96 488.69,150.19 489.23,150.36 489.77,150.47 490.31,150.52 490.85,150.52 491.38,150.46 491.92,150.34 492.46,150.17 493.00,149.95 493.54,149.68 494.08,149.36 494.62,149.00 495.16,148.58 495.70,148.13 496.24,147.63 496.77,147.09 497.31,146.51 497.85,145.90 498.39,145.26 498.93,144.58 499.47,143.87 500.01,143.13 500.55,142.37 501.09,141.58 501.63,140.77 502.16,139.94 502.70,139.09 503.24,138.22 503.78,137.35 504.32,136.46 504.86,135.56 505.40,134.65 505.94,133.74 506.48,132.82 507.02,131.91 507.55,130.99 508.09,130.08 508.63,129.17 509.17,128.26 509.71,127.37 510.25,126.48 510.79,125.61 511.33,124.75 511.87,123.91 512.41,123.08 512.94,122.27 513.48,121.48 514.02,120.71 514.56,119.97 515.10,119.25 515.64,118.55 516.18,117.89 516.72,117.25 517.26,116.64 517.79,116.06 518.33,115.51 518.87,115.00 519.41,114.52 519.95,114.07 520.49,113.66 521.03,113.29 521.57,112.95 522.11,112.65 522.65,112.39 523.18,112.17 523.72,111.98 524.26,111.84 524.80,111.74 525.34,111.67 525.88,111.65 526.42,111.66 526.96,111.72 527.50,111.82 528.04,111.96 528.57,112.14 529.11,112.35 529.65,112.61 530.19,112.91 530.73,113.25 531.27,113.62 531.81,114.04 532.35,114.49 532.89,114.98 533.43,115.51 533.96,116.07 534.50,116.67 535.04,117.30 535.58,117.97 536.12,118.67 536.66,119.40 537.20,120.16 537.74,120.96 538.28,121.78 538.81,122.63 539.35,123.51 539.89,124.42 540.43,125.35 540.97,126.30 541.51,127.28 542.05,128.28 542.59,129.30 543.13,130.33 543.67,131.39 544.20,132.46 544.74,133.55 545.28,134.65 545.82,135.76 546.36,136.88 546.90,138.02 547.44,139.16 547.98,140.31 548.52,141.46 549.06,142.62 549.59,143.78 550.13,144.94 550.67,146.10 551.21,147.26 551.75,148.41 552.29,149.56 552.83,150.70 553.37,151.84 553.91,152.96 554.45,154.08 554.98,155.18 555.52,156.27 556.06,157.35 556.60,158.40 557.14,159.44 557.68,160.47 558.22,161.47 558.76,162.44 559.30,163.40 559.84,164.33 560.37,165.24 560.91,166.12 561.45,166.97 561.99,167.79 562.53,168.58 563.07,169.34 563.61,170.06 564.15,170.76 564.69,171.42 565.22,172.04 565.76,172.62 566.30,173.17 566.84,173.69 567.38,174.16 567.92,174.59 568.46,174.98 569.00,175.34 569.54,175.65 570.08,175.92 570.61,176.14 571.15,176.33 571.69,176.47 572.23,176.57 572.77,176.62 573.31,176.63 573.85,176.60 574.39,176.52 574.93,176.41 575.47,176.24 576.00,176.04 576.54,175.79 577.08,175.50 577.62,175.17 578.16,174.80 578.70,174.39 579.24,173.94 579.78,173.45 580.32,172.92 580.86,172.35 581.39,171.75 581.93,171.11 582.47,170.44 583.01,169.73 583.55,169.00 584.09,168.23 584.63,167.43 585.17,166.61 585.71,165.76 586.24,164.89 586.78,163.99 587.32,163.07 587.86,162.14 588.40,161.18 588.94,160.21 589.48,159.23 590.02,158.23 590.56,157.23 591.10,156.22 591.63,155.20 592.17,154.18 592.71,153.15 593.25,152.13 593.79,151.11 594.33,150.10 594.87,149.10 595.41,148.10 595.95,147.12 596.49,146.15 597.02,145.20 597.56,144.27 598.10,143.36 598.64,142.48 599.18,141.62 599.72,140.79 600.26,139.99 600.80,139.23 601.34,138.50 601.88,137.81 602.41,137.15 602.95,136.55 603.49,135.98 604.03,135.47 604.57,135.00 605.11,134.58 605.65,134.22 606.19,133.91 606.73,133.65 607.27,133.46 607.80,133.32 608.34,133.24 608.88,133.23 609.42,133.28 609.96,133.39 610.50,133.57 611.04,133.82 611.58,134.14 612.12,134.52 612.65,134.97 613.19,135.49 613.73,136.09 614.27,136.75 614.81,137.48 615.35,138.28 615.89,139.15 616.43,140.09 616.97,141.09 617.51,142.17 618.04,143.31 618.58,144.52 619.12,145.79 619.66,147.13 620.20,148.52 620.74,149.98 621.28,151.49 621.82,153.07 622.36,154.69 622.90,156.37 623.43,158.10 623.97,159.87 624.51,161.69 625.05,163.55 625.59,165.45 626.13,167.38 626.67,169.35 627.21,171.35 627.75,173.37 628.29,175.42 628.82,177.48 629.36,179.56 629.90,181.65 630.44,183.75 630.98,185.85 631.52,187.95 632.06,190.04 632.60,192.13 633.14,194.20 633.68,196.26 634.21,198.30 634.75,200.31 635.29,202.28 635.83,204.23 636.37,206.14 636.91,208.00 637.45,209.81 637.99,211.58 638.53,213.28 639.06,214.93 639.60,216.52 640.14,218.03 640.68,219.47 641.22,220.84 641.76,222.13 642.30,223.33 642.84,224.45 643.38,225.47 643.92,226.41 644.45,227.24 644.99,227.98 645.53,228.62 646.07,229.15 646.61,229.57 647.15,229.89 647.69,230.10 648.23,230.19 648.77,230.18 649.31,230.05 649.84,229.81 650.38,229.45 650.92,228.98 651.46,228.40 652.00,227.71 652.54,226.90 653.08,225.99 653.62,224.96 654.16,223.84 654.70,222.60 655.23,221.27 655.77,219.85 656.31,218.32 656.85,216.71 657.39,215.01 657.93,213.23 658.47,211.38 659.01,209.45 659.55,207.45 660.08,205.39 660.62,203.28 661.16,201.11 661.70,198.91 662.24,196.66 662.78,194.38 663.32,192.08 663.86,189.76 664.40,187.42 664.94,185.09 665.47,182.75 666.01,180.42 666.55,178.11 667.09,175.82 667.63,173.57 668.17,171.34 668.71,169.16 669.25,167.03 669.79,164.96 670.33,162.95 670.86,161.00 671.40,159.13 671.94,157.33 672.48,155.62 673.02,154.00 673.56,152.46 674.10,151.02 674.64,149.68 675.18,148.44 675.72,147.30 676.25,146.27 676.79,145.33 677.33,144.50 677.87,143.77 678.41,143.13 678.95,142.60 679.49,142.15 680.03,141.79 680.57,141.51 681.11,141.30 681.64,141.16 682.18,141.07 682.72,141.02 683.26,141.00 683.80,141.00" fill="none" stroke="#0000ff" stroke-width="2.45" stroke-linejoin="round" stroke-linecap="round" clip-path="url(#c1)"/>
<clipPath id="c2"><rect x="60.0" y="323.0" width="272.8" height="206.0"/></clipPath>
<line x1="126.3" y1="325.5" x2="126.3" y2="526.5" stroke="#d6d6d6"/>
<line x1="190.05" y1="325.5" x2="190.05" y2="526.5" stroke="#d6d6d6"/>
<line x1="253.8" y1="325.5" x2="253.8" y2="526.5" stroke="#d6d6d6"/>
<line x1="317.55" y1="325.5" x2="317.55" y2="526.5" stroke="#d6d6d6"/>
<line x1="62.5" y1="512.48" x2="330.3" y2="512.48" stroke="#d6d6d6"/>
<line x1="62.5" y1="450.15" x2="330.3" y2="450.15" stroke="#d6d6d6"/>
<line x1="62.5" y1="387.83" x2="330.3" y2="387.83" stroke="#d6d6d6"/>
<rect x="62.5" y="325.5" width="267.8" height="201.0" fill="none" stroke="#262626" stroke-width="1.3"/>
<text x="62.1" y="550.9" text-anchor="middle">0</text>
<text x="125.85" y="550.9" text-anchor="middle">5</text>
<text x="189.6" y="550.9" text-anchor="middle">10</text>
<text x="253.35" y="550.9" text-anchor="middle">15</text>
<text x="317.1" y="550.9" text-anchor="middle">20</text>
<text x="57.15" y="519.4" text-anchor="end">-0.2</text>
<text x="57.15" y="457.1" text-anchor="end">0</text>
<text x="57.15" y="394.7" text-anchor="end">0.2</text>
<text x="57.15" y="332.4" text-anchor="end">0.4</text>
<path d="M62.55,526.5v-3.3M62.55,325.5v3.3M126.3,526.5v-3.3M126.3,325.5v3.3M190.05,526.5v-3.3M190.05,325.5v3.3M253.8,526.5v-3.3M253.8,325.5v3.3M317.55,526.5v-3.3M317.55,325.5v3.3M62.5,512.48h3.3M330.3,512.48h-3.3M62.5,450.15h3.3M330.3,450.15h-3.3M62.5,387.83h3.3M330.3,387.83h-3.3M62.5,325.5h3.3M330.3,325.5h-3.3" stroke="#262626" stroke-width="1.3" fill="none"/>
<text x="196.4" y="575.6" text-anchor="middle" font-size="19.0">Time (s)</text>
<text transform="translate(19.30,425.5) rotate(-90)" text-anchor="middle" font-size="19.0">Acceleration (°/s<tspan dy="-8.5" font-size="15">2</tspan><tspan dx="0.8" dy="8.5">)</tspan></text>
<path d="M62.55,450.15 63.00,450.08 63.45,449.86 63.90,449.50 64.35,449.02 64.81,448.43 65.26,447.73 65.71,446.94 66.16,446.06 66.61,445.10 67.06,444.07 67.51,442.98 67.96,441.83 68.41,440.63 68.87,439.39 69.32,438.12 69.77,436.82 70.22,435.50 70.67,434.16 71.12,432.82 71.57,431.47 72.02,430.12 72.48,428.78 72.93,427.44 73.38,426.13 73.83,424.83 74.28,423.55 74.73,422.31 75.18,421.09 75.63,419.91 76.08,418.76 76.54,417.66 76.99,416.60 77.44,415.58 77.89,414.61 78.34,413.70 78.79,412.83 79.24,412.02 79.69,411.26 80.14,410.57 80.60,409.93 81.05,409.35 81.50,408.83 81.95,408.37 82.40,407.97 82.85,407.64 83.30,407.37 83.75,407.16 84.20,407.02 84.66,406.93 85.11,406.92 85.56,406.96 86.01,407.06 86.46,407.23 86.91,407.46 87.36,407.74 87.81,408.09 88.26,408.49 88.72,408.95 89.17,409.47 89.62,410.04 90.07,410.66 90.52,411.34 90.97,412.06 91.42,412.84 91.87,413.65 92.33,414.52 92.78,415.42 93.23,416.37 93.68,417.36 94.13,418.38 94.58,419.44 95.03,420.53 95.48,421.65 95.93,422.80 96.39,423.98 96.84,425.18 97.29,426.40 97.74,427.64 98.19,428.90 98.64,430.18 99.09,431.46 99.54,432.76 99.99,434.07 100.45,435.38 100.90,436.69 101.35,438.00 101.80,439.32 102.25,440.63 102.70,441.93 103.15,443.23 103.60,444.51 104.05,445.79 104.51,447.04 104.96,448.29 105.41,449.51 105.86,450.71 106.31,451.89 106.76,453.05 107.21,454.18 107.66,455.28 108.11,456.36 108.57,457.40 109.02,458.41 109.47,459.38 109.92,460.32 110.37,461.22 110.82,462.09 111.27,462.92 111.72,463.71 112.18,464.45 112.63,465.16 113.08,465.82 113.53,466.44 113.98,467.02 114.43,467.56 114.88,468.05 115.33,468.50 115.78,468.91 116.24,469.27 116.69,469.59 117.14,469.87 117.59,470.11 118.04,470.31 118.49,470.47 118.94,470.59 119.39,470.67 119.84,470.71 120.30,470.72 120.75,470.69 121.20,470.63 121.65,470.54 122.10,470.42 122.55,470.26 123.00,470.08 123.45,469.87 123.90,469.64 124.36,469.38 124.81,469.10 125.26,468.80 125.71,468.48 126.16,468.14 126.61,467.79 127.06,467.43 127.51,467.05 127.96,466.66 128.42,466.27 128.87,465.87 129.32,465.46 129.77,465.06 130.22,464.65 130.67,464.24 131.12,463.83 131.57,463.43 132.03,463.03 132.48,462.65 132.93,462.27 133.38,461.90 133.83,461.54 134.28,461.19 134.73,460.87 135.18,460.55 135.63,460.26 136.09,459.98 136.54,459.72 136.99,459.49 137.44,459.28 137.89,459.09 138.34,458.92 138.79,458.78 139.24,458.66 139.69,458.57 140.15,458.51 140.60,458.47 141.05,458.46 141.50,458.48 141.95,458.52 142.40,458.59 142.85,458.69 143.30,458.82 143.75,458.97 144.21,459.15 144.66,459.35 145.11,459.58 145.56,459.83 146.01,460.10 146.46,460.40 146.91,460.71 147.36,461.05 147.81,461.40 148.27,461.78 148.72,462.17 149.17,462.57 149.62,462.99 150.07,463.42 150.52,463.86 150.97,464.31 151.42,464.77 151.88,465.24 152.33,465.71 152.78,466.19 153.23,466.66 153.68,467.14 154.13,467.62 154.58,468.09 155.03,468.56 155.48,469.02 155.94,469.48 156.39,469.92 156.84,470.36 157.29,470.79 157.74,471.20 158.19,471.59 158.64,471.98 159.09,472.34 159.54,472.69 160.00,473.01 160.45,473.32 160.90,473.60 161.35,473.86 161.80,474.10 162.25,474.31 162.70,474.50 163.15,474.66 163.60,474.79 164.06,474.89 164.51,474.97 164.96,475.02 165.41,475.05 165.86,475.04 166.31,475.01 166.76,474.94 167.21,474.85 167.66,474.73 168.12,474.59 168.57,474.41 169.02,474.21 169.47,473.99 169.92,473.74 170.37,473.46 170.82,473.16 171.27,472.84 171.73,472.50 172.18,472.13 172.63,471.75 173.08,471.34 173.53,470.92 173.98,470.49 174.43,470.03 174.88,469.57 175.33,469.09 175.79,468.60 176.24,468.10 176.69,467.59 177.14,467.08 177.59,466.56 178.04,466.04 178.49,465.51 178.94,464.98 179.39,464.46 179.85,463.93 180.30,463.41 180.75,462.89 181.20,462.38 181.65,461.88 182.10,461.39 182.55,460.91 183.00,460.44 183.45,459.98 183.91,459.54 184.36,459.11 184.81,458.71 185.26,458.32 185.71,457.95 186.16,457.60 186.61,457.28 187.06,456.98 187.51,456.70 187.97,456.45 188.42,456.23 188.87,456.03 189.32,455.86 189.77,455.73 190.22,455.62 190.67,455.54 191.12,455.49 191.58,455.47 192.03,455.48 192.48,455.53 192.93,455.61 193.38,455.72 193.83,455.86 194.28,456.03 194.73,456.24 195.18,456.48 195.64,456.74 196.09,457.04 196.54,457.37 196.99,457.73 197.44,458.12 197.89,458.54 198.34,458.98 198.79,459.46 199.24,459.96 199.70,460.48 200.15,461.03 200.60,461.60 201.05,462.20 201.50,462.82 201.95,463.46 202.40,464.12 202.85,464.79 203.30,465.49 203.76,466.20 204.21,466.92 204.66,467.66 205.11,468.41 205.56,469.17 206.01,469.94 206.46,470.71 206.91,471.50 207.36,472.28 207.82,473.07 208.27,473.87 208.72,474.66 209.17,475.45 209.62,476.24 210.07,477.03 210.52,477.81 210.97,478.58 211.43,479.35 211.88,480.10 212.33,480.84 212.78,481.57 213.23,482.29 213.68,482.98 214.13,483.66 214.58,484.32 215.03,484.96 215.49,485.58 215.94,486.18 216.39,486.74 216.84,487.29 217.29,487.80 217.74,488.29 218.19,488.74 218.64,489.17 219.09,489.56 219.55,489.92 220.00,490.24 220.45,490.53 220.90,490.77 221.35,490.98 221.80,491.16 222.25,491.29 222.70,491.38 223.15,491.43 223.61,491.43 224.06,491.40 224.51,491.32 224.96,491.19 225.41,491.02 225.86,490.80 226.31,490.54 226.76,490.23 227.21,489.88 227.67,489.48 228.12,489.03 228.57,488.53 229.02,487.99 229.47,487.40 229.92,486.76 230.37,486.08 230.82,485.35 231.28,484.57 231.73,483.75 232.18,482.87 232.63,481.96 233.08,481.00 233.53,479.99 233.98,478.94 234.43,477.85 234.88,476.71 235.34,475.53 235.79,474.31 236.24,473.05 236.69,471.76 237.14,470.42 237.59,469.05 238.04,467.64 238.49,466.19 238.94,464.72 239.40,463.21 239.85,461.67 240.30,460.11 240.75,458.52 241.20,456.90 241.65,455.26 242.10,453.59 242.55,451.91 243.00,450.21 243.46,448.50 243.91,446.77 244.36,445.03 244.81,443.28 245.26,441.52 245.71,439.76 246.16,438.00 246.61,436.24 247.06,434.48 247.52,432.72 247.97,430.98 248.42,429.24 248.87,427.52 249.32,425.81 249.77,424.12 250.22,422.44 250.67,420.79 251.13,419.17 251.58,417.57 252.03,416.00 252.48,414.47 252.93,412.97 253.38,411.51 253.83,410.08 254.28,408.70 254.73,407.36 255.19,406.07 255.64,404.83 256.09,403.63 256.54,402.49 256.99,401.40 257.44,400.38 257.89,399.40 258.34,398.49 258.79,397.64 259.25,396.86 259.70,396.14 260.15,395.48 260.60,394.90 261.05,394.38 261.50,393.94 261.95,393.56 262.40,393.26 262.85,393.03 263.31,392.88 263.76,392.80 264.21,392.79 264.66,392.86 265.11,393.01 265.56,393.23 266.01,393.53 266.46,393.91 266.92,394.36 267.37,394.88 267.82,395.48 268.27,396.15 268.72,396.90 269.17,397.71 269.62,398.60 270.07,399.55 270.52,400.57 270.98,401.66 271.43,402.81 271.88,404.01 272.33,405.28 272.78,406.60 273.23,407.98 273.68,409.40 274.13,410.87 274.58,412.38 275.04,413.93 275.49,415.52 275.94,417.14 276.39,418.78 276.84,420.45 277.29,422.13 277.74,423.82 278.19,425.52 278.64,427.22 279.10,428.91 279.55,430.59 280.00,432.26 280.45,433.90 280.90,435.51 281.35,437.07 281.80,438.60 282.25,440.06 282.70,441.47 283.16,442.80 283.61,444.06 284.06,445.22 284.51,446.29 284.96,447.25 285.41,448.09 285.86,448.80 286.31,449.37 286.77,449.80 287.22,450.06 287.67,450.15" fill="none" stroke="#ff0000" stroke-width="2.45" stroke-linejoin="round" stroke-linecap="round" clip-path="url(#c2)"/>
<path d="M62.55,450.15 63.09,449.89 63.62,449.15 64.16,447.96 64.70,446.39 65.23,444.47 65.77,442.24 66.31,439.76 66.84,437.04 67.38,434.15 67.92,431.09 68.45,427.92 68.99,424.66 69.53,421.34 70.06,417.99 70.60,414.64 71.14,411.30 71.67,408.01 72.21,404.78 72.74,401.64 73.28,398.60 73.82,395.68 74.35,392.89 74.89,390.25 75.43,387.78 75.96,385.47 76.50,383.36 77.04,381.43 77.57,379.71 78.11,378.19 78.65,376.88 79.18,375.79 79.72,374.93 80.26,374.28 80.79,373.87 81.33,373.67 81.87,373.70 82.40,373.96 82.94,374.43 83.48,375.13 84.01,376.04 84.55,377.16 85.09,378.49 85.62,380.02 86.16,381.74 86.70,383.65 87.23,385.74 87.77,388.01 88.31,390.44 88.84,393.02 89.38,395.75 89.92,398.62 90.45,401.62 90.99,404.73 91.52,407.95 92.06,411.27 92.60,414.68 93.13,418.16 93.67,421.71 94.21,425.32 94.74,428.97 95.28,432.65 95.82,436.35 96.35,440.07 96.89,443.79 97.43,447.51 97.96,451.20 98.50,454.87 99.04,458.50 99.57,462.08 100.11,465.61 100.65,469.07 101.18,472.46 101.72,475.78 102.26,479.01 102.79,482.14 103.33,485.18 103.87,488.11 104.40,490.94 104.94,493.65 105.48,496.24 106.01,498.71 106.55,501.06 107.09,503.27 107.62,505.36 108.16,507.31 108.70,509.12 109.23,510.80 109.77,512.34 110.31,513.74 110.84,515.00 111.38,516.12 111.91,517.09 112.45,517.93 112.99,518.63 113.52,519.19 114.06,519.61 114.60,519.89 115.13,520.04 115.67,520.06 116.21,519.94 116.74,519.70 117.28,519.33 117.82,518.84 118.35,518.23 118.89,517.50 119.43,516.66 119.96,515.71 120.50,514.65 121.04,513.49 121.57,512.23 122.11,510.87 122.65,509.42 123.18,507.89 123.72,506.28 124.26,504.59 124.79,502.82 125.33,500.99 125.87,499.09 126.40,497.14 126.94,495.13 127.48,493.07 128.01,490.97 128.55,488.83 129.09,486.65 129.62,484.45 130.16,482.21 130.69,479.96 131.23,477.70 131.77,475.42 132.30,473.14 132.84,470.86 133.38,468.58 133.91,466.31 134.45,464.05 134.99,461.81 135.52,459.58 136.06,457.39 136.60,455.22 137.13,453.09 137.67,450.99 138.21,448.94 138.74,446.92 139.28,444.96 139.82,443.04 140.35,441.18 140.89,439.37 141.43,437.62 141.96,435.93 142.50,434.31 143.04,432.74 143.57,431.25 144.11,429.82 144.65,428.46 145.18,427.17 145.72,425.96 146.26,424.81 146.79,423.74 147.33,422.75 147.87,421.83 148.40,420.99 148.94,420.22 149.47,419.53 150.01,418.91 150.55,418.37 151.08,417.91 151.62,417.52 152.16,417.21 152.69,416.97 153.23,416.81 153.77,416.72 154.30,416.70 154.84,416.76 155.38,416.88 155.91,417.08 156.45,417.34 156.99,417.67 157.52,418.07 158.06,418.53 158.60,419.05 159.13,419.64 159.67,420.29 160.21,420.99 160.74,421.75 161.28,422.56 161.82,423.43 162.35,424.35 162.89,425.31 163.43,426.33 163.96,427.38 164.50,428.48 165.04,429.62 165.57,430.80 166.11,432.01 166.65,433.26 167.18,434.54 167.72,435.85 168.25,437.18 168.79,438.54 169.33,439.92 169.86,441.32 170.40,442.74 170.94,444.17 171.47,445.62 172.01,447.08 172.55,448.54 173.08,450.01 173.62,451.49 174.16,452.97 174.69,454.44 175.23,455.92 175.77,457.38 176.30,458.85 176.84,460.30 177.38,461.74 177.91,463.16 178.45,464.57 178.99,465.97 179.52,467.34 180.06,468.70 180.60,470.03 181.13,471.33 181.67,472.62 182.21,473.87 182.74,475.09 183.28,476.28 183.82,477.44 184.35,478.57 184.89,479.66 185.43,480.71 185.96,481.72 186.50,482.70 187.03,483.63 187.57,484.53 188.11,485.38 188.64,486.18 189.18,486.95 189.72,487.66 190.25,488.33 190.79,488.95 191.33,489.53 191.86,490.05 192.40,490.53 192.94,490.95 193.47,491.33 194.01,491.65 194.55,491.92 195.08,492.14 195.62,492.30 196.16,492.42 196.69,492.48 197.23,492.48 197.77,492.44 198.30,492.34 198.84,492.18 199.38,491.98 199.91,491.72 200.45,491.40 200.99,491.04 201.52,490.62 202.06,490.15 202.60,489.63 203.13,489.05 203.67,488.43 204.21,487.75 204.74,487.03 205.28,486.26 205.82,485.44 206.35,484.57 206.89,483.65 207.42,482.70 207.96,481.69 208.50,480.64 209.03,479.56 209.57,478.43 210.11,477.26 210.64,476.05 211.18,474.81 211.72,473.53 212.25,472.22 212.79,470.87 213.33,469.50 213.86,468.10 214.40,466.67 214.94,465.21 215.47,463.74 216.01,462.24 216.55,460.72 217.08,459.19 217.62,457.64 218.16,456.09 218.69,454.52 219.23,452.94 219.77,451.36 220.30,449.78 220.84,448.19 221.38,446.61 221.91,445.04 222.45,443.47 222.99,441.92 223.52,440.37 224.06,438.85 224.60,437.34 225.13,435.85 225.67,434.39 226.20,432.95 226.74,431.54 227.28,430.17 227.81,428.82 228.35,427.52 228.89,426.25 229.42,425.03 229.96,423.85 230.50,422.72 231.03,421.64 231.57,420.61 232.11,419.63 232.64,418.71 233.18,417.85 233.72,417.05 234.25,416.32 234.79,415.65 235.33,415.05 235.86,414.51 236.40,414.05 236.94,413.66 237.47,413.34 238.01,413.10 238.55,412.94 239.08,412.86 239.62,412.85 240.16,412.93 240.69,413.09 241.23,413.34 241.77,413.66 242.30,414.07 242.84,414.57 243.38,415.15 243.91,415.82 244.45,416.58 244.98,417.42 245.52,418.34 246.06,419.35 246.59,420.45 247.13,421.63 247.67,422.90 248.20,424.24 248.74,425.67 249.28,427.18 249.81,428.77 250.35,430.44 250.89,432.18 251.42,433.99 251.96,435.87 252.50,437.82 253.03,439.84 253.57,441.92 254.11,444.06 254.64,446.26 255.18,448.51 255.72,450.81 256.25,453.15 256.79,455.53 257.33,457.96 257.86,460.41 258.40,462.89 258.94,465.39 259.47,467.92 260.01,470.45 260.55,473.00 261.08,475.54 261.62,478.09 262.16,480.62 262.69,483.15 263.23,485.65 263.76,488.13 264.30,490.58 264.84,493.00 265.37,495.38 265.91,497.71 266.45,499.98 266.98,502.21 267.52,504.36 268.06,506.45 268.59,508.47 269.13,510.41 269.67,512.26 270.20,514.03 270.74,515.70 271.28,517.27 271.81,518.74 272.35,520.10 272.89,521.34 273.42,522.47 273.96,523.48 274.50,524.36 275.03,525.11 275.57,525.73 276.11,526.21 276.64,526.56 277.18,526.75 277.72,526.81 278.25,526.71 278.79,526.47 279.33,526.07 279.86,525.52 280.40,524.81 280.94,523.95 281.47,522.92 282.01,521.74 282.54,520.41 283.08,518.91 283.62,517.26 284.15,515.45 284.69,513.48 285.23,511.37 285.76,509.10 286.30,506.68 286.84,504.12 287.37,501.41 287.91,498.57 288.45,495.59 288.98,492.48 289.52,489.25 290.06,485.90 290.59,482.44 291.13,478.87 291.67,475.21 292.20,471.45 292.74,467.61 293.28,463.70 293.81,459.73 294.35,455.70 294.89,451.62 295.42,447.52 295.96,443.39 296.50,439.25 297.03,435.11 297.57,430.98 298.11,426.87 298.64,422.80 299.18,418.78 299.72,414.82 300.25,410.93 300.79,407.12 301.33,403.41 301.86,399.80 302.40,396.32 302.93,392.96 303.47,389.75 304.01,386.69 304.54,383.79 305.08,381.07 305.62,378.53 306.15,376.18 306.69,374.03 307.23,372.09 307.76,370.36 308.30,368.86 308.84,367.60 309.37,366.56 309.91,365.77 310.45,365.22 310.98,364.92 311.52,364.87 312.06,365.07 312.59,365.52 313.13,366.22 313.67,367.18 314.20,368.38 314.74,369.82 315.28,371.50 315.81,373.42 316.35,375.56 316.89,377.92 317.42,380.48 317.96,383.23 318.50,386.17 319.03,389.28 319.57,392.54 320.11,395.93 320.64,399.44 321.18,403.04 321.71,406.72 322.25,410.44 322.79,414.19 323.32,417.93 323.86,421.64 324.40,425.29 324.93,428.83 325.47,432.24 326.01,435.49 326.54,438.52 327.08,441.30 327.62,443.79 328.15,445.94 328.69,447.70 329.23,449.03 329.76,449.86 330.30,450.15" fill="none" stroke="#0000ff" stroke-width="2.45" stroke-linejoin="round" stroke-linecap="round" clip-path="url(#c2)"/>
<clipPath id="c3"><rect x="412.35" y="323.0" width="273.94999999999993" height="206.0"/></clipPath>
<line x1="478.89" y1="325.5" x2="478.89" y2="526.5" stroke="#d6d6d6"/>
<line x1="542.92" y1="325.5" x2="542.92" y2="526.5" stroke="#d6d6d6"/>
<line x1="606.96" y1="325.5" x2="606.96" y2="526.5" stroke="#d6d6d6"/>
<line x1="670.99" y1="325.5" x2="670.99" y2="526.5" stroke="#d6d6d6"/>
<line x1="414.85" y1="476.25" x2="683.8" y2="476.25" stroke="#d6d6d6"/>
<line x1="414.85" y1="426" x2="683.8" y2="426" stroke="#d6d6d6"/>
<line x1="414.85" y1="375.75" x2="683.8" y2="375.75" stroke="#d6d6d6"/>
<rect x="414.85" y="325.5" width="268.94999999999993" height="201.0" fill="none" stroke="#262626" stroke-width="1.3"/>
<text x="414.4" y="550.9" text-anchor="middle">0</text>
<text x="478.44" y="550.9" text-anchor="middle">5</text>
<text x="542.47" y="550.9" text-anchor="middle">10</text>
<text x="606.51" y="550.9" text-anchor="middle">15</text>
<text x="670.54" y="550.9" text-anchor="middle">20</text>
<text x="408.55" y="533.4" text-anchor="end">-0.4</text>
<text x="408.55" y="483.1" text-anchor="end">-0.2</text>
<text x="408.55" y="432.9" text-anchor="end">0</text>
<text x="408.55" y="382.6" text-anchor="end">0.2</text>
<text x="408.55" y="332.4" text-anchor="end">0.4</text>
<path d="M414.85,526.5v-3.3M414.85,325.5v3.3M478.89,526.5v-3.3M478.89,325.5v3.3M542.92,526.5v-3.3M542.92,325.5v3.3M606.96,526.5v-3.3M606.96,325.5v3.3M670.99,526.5v-3.3M670.99,325.5v3.3M414.85,526.5h3.3M683.8,526.5h-3.3M414.85,476.25h3.3M683.8,476.25h-3.3M414.85,426h3.3M683.8,426h-3.3M414.85,375.75h3.3M683.8,375.75h-3.3M414.85,325.5h3.3M683.8,325.5h-3.3" stroke="#262626" stroke-width="1.3" fill="none"/>
<text x="549.3" y="575.6" text-anchor="middle" font-size="19.0">Time (s)</text>
<text transform="translate(371.50,425.1) rotate(-90)" text-anchor="middle" font-size="19.0">Jerk (°/s<tspan dy="-8.5" font-size="15">3</tspan><tspan dx="0.8" dy="8.5">)</tspan></text>
<path d="M414.85,426.00 415.30,422.59 415.76,419.42 416.21,416.48 416.66,413.77 417.12,411.27 417.57,408.98 418.02,406.89 418.48,405.00 418.93,403.29 419.38,401.77 419.83,400.43 420.29,399.25 420.74,398.24 421.19,397.39 421.65,396.68 422.10,396.13 422.55,395.71 423.01,395.42 423.46,395.26 423.91,395.22 424.37,395.30 424.82,395.49 425.27,395.79 425.73,396.18 426.18,396.67 426.63,397.25 427.09,397.91 427.54,398.66 427.99,399.47 428.44,400.36 428.90,401.31 429.35,402.33 429.80,403.40 430.26,404.52 430.71,405.69 431.16,406.90 431.62,408.15 432.07,409.44 432.52,410.76 432.98,412.10 433.43,413.47 433.88,414.86 434.34,416.27 434.79,417.68 435.24,419.11 435.70,420.54 436.15,421.98 436.60,423.42 437.05,424.85 437.51,426.27 437.96,427.69 438.41,429.10 438.87,430.49 439.32,431.86 439.77,433.21 440.23,434.54 440.68,435.85 441.13,437.13 441.59,438.38 442.04,439.60 442.49,440.79 442.95,441.94 443.40,443.06 443.85,444.14 444.31,445.18 444.76,446.18 445.21,447.13 445.66,448.04 446.12,448.91 446.57,449.73 447.02,450.50 447.48,451.22 447.93,451.89 448.38,452.52 448.84,453.09 449.29,453.61 449.74,454.08 450.20,454.50 450.65,454.87 451.10,455.18 451.56,455.44 452.01,455.65 452.46,455.80 452.92,455.90 453.37,455.95 453.82,455.95 454.27,455.89 454.73,455.78 455.18,455.63 455.63,455.42 456.09,455.16 456.54,454.85 456.99,454.50 457.45,454.10 457.90,453.65 458.35,453.16 458.81,452.63 459.26,452.06 459.71,451.44 460.17,450.79 460.62,450.10 461.07,449.37 461.53,448.62 461.98,447.83 462.43,447.01 462.88,446.16 463.34,445.29 463.79,444.40 464.24,443.48 464.70,442.55 465.15,441.61 465.60,440.65 466.06,439.68 466.51,438.70 466.96,437.72 467.42,436.74 467.87,435.76 468.32,434.79 468.78,433.82 469.23,432.86 469.68,431.91 470.14,430.98 470.59,430.06 471.04,429.16 471.49,428.28 471.95,427.42 472.40,426.58 472.85,425.77 473.31,424.99 473.76,424.24 474.21,423.51 474.67,422.82 475.12,422.16 475.57,421.53 476.03,420.94 476.48,420.38 476.93,419.87 477.39,419.38 477.84,418.94 478.29,418.53 478.75,418.17 479.20,417.84 479.65,417.55 480.10,417.31 480.56,417.10 481.01,416.94 481.46,416.81 481.92,416.73 482.37,416.68 482.82,416.68 483.28,416.71 483.73,416.79 484.18,416.90 484.64,417.05 485.09,417.23 485.54,417.45 486.00,417.71 486.45,418.00 486.90,418.33 487.36,418.68 487.81,419.07 488.26,419.48 488.71,419.93 489.17,420.39 489.62,420.89 490.07,421.40 490.53,421.94 490.98,422.49 491.43,423.06 491.89,423.64 492.34,424.24 492.79,424.85 493.25,425.46 493.70,426.08 494.15,426.70 494.61,427.32 495.06,427.94 495.51,428.55 495.97,429.15 496.42,429.75 496.87,430.33 497.32,430.90 497.78,431.45 498.23,431.98 498.68,432.49 499.14,432.98 499.59,433.45 500.04,433.89 500.50,434.31 500.95,434.69 501.40,435.05 501.86,435.38 502.31,435.68 502.76,435.95 503.22,436.18 503.67,436.38 504.12,436.55 504.58,436.68 505.03,436.78 505.48,436.84 505.93,436.87 506.39,436.86 506.84,436.82 507.29,436.74 507.75,436.63 508.20,436.48 508.65,436.29 509.11,436.07 509.56,435.82 510.01,435.54 510.47,435.22 510.92,434.87 511.37,434.50 511.83,434.09 512.28,433.66 512.73,433.19 513.19,432.71 513.64,432.20 514.09,431.67 514.54,431.11 515.00,430.54 515.45,429.95 515.90,429.35 516.36,428.73 516.81,428.10 517.26,427.47 517.72,426.83 518.17,426.18 518.62,425.53 519.08,424.89 519.53,424.25 519.98,423.61 520.44,422.98 520.89,422.36 521.34,421.75 521.80,421.15 522.25,420.56 522.70,420.00 523.15,419.45 523.61,418.92 524.06,418.41 524.51,417.93 524.97,417.46 525.42,417.02 525.87,416.61 526.33,416.23 526.78,415.87 527.23,415.54 527.69,415.24 528.14,414.97 528.59,414.73 529.05,414.53 529.50,414.35 529.95,414.21 530.41,414.11 530.86,414.03 531.31,413.99 531.76,413.98 532.22,414.01 532.67,414.07 533.12,414.17 533.58,414.30 534.03,414.46 534.48,414.66 534.94,414.89 535.39,415.15 535.84,415.45 536.30,415.77 536.75,416.13 537.20,416.52 537.66,416.93 538.11,417.38 538.56,417.85 539.02,418.35 539.47,418.88 539.92,419.43 540.37,420.00 540.83,420.59 541.28,421.21 541.73,421.84 542.19,422.50 542.64,423.16 543.09,423.85 543.55,424.54 544.00,425.25 544.45,425.96 544.91,426.68 545.36,427.41 545.81,428.13 546.27,428.86 546.72,429.59 547.17,430.32 547.63,431.04 548.08,431.75 548.53,432.46 548.99,433.16 549.44,433.85 549.89,434.53 550.34,435.19 550.80,435.84 551.25,436.47 551.70,437.08 552.16,437.68 552.61,438.25 553.06,438.80 553.52,439.33 553.97,439.84 554.42,440.32 554.88,440.78 555.33,441.21 555.78,441.62 556.24,441.99 556.69,442.34 557.14,442.66 557.60,442.94 558.05,443.20 558.50,443.42 558.95,443.62 559.41,443.78 559.86,443.91 560.31,444.00 560.77,444.06 561.22,444.09 561.67,444.08 562.13,444.04 562.58,443.96 563.03,443.85 563.49,443.70 563.94,443.52 564.39,443.30 564.85,443.05 565.30,442.76 565.75,442.44 566.21,442.09 566.66,441.70 567.11,441.28 567.56,440.82 568.02,440.33 568.47,439.81 568.92,439.26 569.38,438.67 569.83,438.06 570.28,437.41 570.74,436.73 571.19,436.03 571.64,435.30 572.10,434.54 572.55,433.75 573.00,432.94 573.46,432.10 573.91,431.24 574.36,430.36 574.82,429.46 575.27,428.53 575.72,427.59 576.17,426.63 576.63,425.65 577.08,424.66 577.53,423.65 577.99,422.63 578.44,421.60 578.89,420.56 579.35,419.51 579.80,418.45 580.25,417.39 580.71,416.32 581.16,415.24 581.61,414.17 582.07,413.09 582.52,412.02 582.97,410.94 583.43,409.87 583.88,408.80 584.33,407.74 584.78,406.68 585.24,405.64 585.69,404.60 586.14,403.58 586.60,402.57 587.05,401.57 587.50,400.59 587.96,399.63 588.41,398.68 588.86,397.76 589.32,396.86 589.77,395.98 590.22,395.13 590.68,394.30 591.13,393.51 591.58,392.74 592.04,392.01 592.49,391.30 592.94,390.64 593.39,390.01 593.85,389.41 594.30,388.86 594.75,388.35 595.21,387.88 595.66,387.46 596.11,387.08 596.57,386.75 597.02,386.47 597.47,386.24 597.93,386.06 598.38,385.93 598.83,385.86 599.29,385.84 599.74,385.87 600.19,385.96 600.65,386.10 601.10,386.30 601.55,386.56 602.00,386.87 602.46,387.24 602.91,387.67 603.36,388.15 603.82,388.69 604.27,389.28 604.72,389.94 605.18,390.64 605.63,391.41 606.08,392.22 606.54,393.09 606.99,394.02 607.44,394.99 607.90,396.02 608.35,397.10 608.80,398.23 609.26,399.40 609.71,400.62 610.16,401.89 610.61,403.20 611.07,404.55 611.52,405.94 611.97,407.37 612.43,408.84 612.88,410.34 613.33,411.88 613.79,413.44 614.24,415.03 614.69,416.65 615.15,418.29 615.60,419.96 616.05,421.64 616.51,423.33 616.96,425.04 617.41,426.76 617.87,428.49 618.32,430.21 618.77,431.94 619.22,433.67 619.68,435.39 620.13,437.10 620.58,438.80 621.04,440.48 621.49,442.14 621.94,443.78 622.40,445.39 622.85,446.96 623.30,448.50 623.76,450.00 624.21,451.45 624.66,452.86 625.12,454.21 625.57,455.50 626.02,456.73 626.48,457.89 626.93,458.98 627.38,459.99 627.83,460.92 628.29,461.76 628.74,462.51 629.19,463.16 629.65,463.70 630.10,464.14 630.55,464.46 631.01,464.67 631.46,464.74 631.91,464.69 632.37,464.49 632.82,464.16 633.27,463.67 633.73,463.02 634.18,462.22 634.63,461.24 635.09,460.09 635.54,458.75 635.99,457.23 636.44,455.51 636.90,453.59 637.35,451.46 637.80,449.11 638.26,446.54 638.71,443.74 639.16,440.70 639.62,437.41 640.07,433.87 640.52,430.07 640.98,426.00" fill="none" stroke="#ff0000" stroke-width="2.45" stroke-linejoin="round" stroke-linecap="round" clip-path="url(#c3)"/>
<path d="M414.85,426.00 415.39,416.21 415.93,407.37 416.47,399.44 417.01,392.39 417.54,386.17 418.08,380.74 418.62,376.08 419.16,372.14 419.70,368.88 420.24,366.28 420.78,364.29 421.32,362.89 421.86,362.03 422.40,361.70 422.93,361.85 423.47,362.45 424.01,363.48 424.55,364.91 425.09,366.70 425.63,368.83 426.17,371.27 426.71,374.00 427.25,376.98 427.79,380.20 428.32,383.62 428.86,387.23 429.40,391.00 429.94,394.92 430.48,398.94 431.02,403.07 431.56,407.27 432.10,411.52 432.64,415.82 433.18,420.13 433.71,424.45 434.25,428.75 434.79,433.02 435.33,437.24 435.87,441.40 436.41,445.49 436.95,449.49 437.49,453.38 438.03,457.17 438.57,460.83 439.10,464.36 439.64,467.74 440.18,470.97 440.72,474.04 441.26,476.94 441.80,479.67 442.34,482.21 442.88,484.57 443.42,486.73 443.95,488.70 444.49,490.47 445.03,492.04 445.57,493.40 446.11,494.56 446.65,495.51 447.19,496.26 447.73,496.81 448.27,497.15 448.81,497.29 449.34,497.23 449.88,496.98 450.42,496.54 450.96,495.92 451.50,495.12 452.04,494.14 452.58,493.01 453.12,491.71 453.66,490.27 454.20,488.70 454.73,486.99 455.27,485.16 455.81,483.22 456.35,481.18 456.89,479.04 457.43,476.81 457.97,474.51 458.51,472.14 459.05,469.70 459.59,467.20 460.12,464.66 460.66,462.08 461.20,459.46 461.74,456.81 462.28,454.14 462.82,451.46 463.36,448.77 463.90,446.07 464.44,443.38 464.97,440.69 465.51,438.02 466.05,435.37 466.59,432.75 467.13,430.15 467.67,427.58 468.21,425.06 468.75,422.58 469.29,420.14 469.83,417.76 470.36,415.43 470.90,413.15 471.44,410.94 471.98,408.80 472.52,406.72 473.06,404.72 473.60,402.79 474.14,400.93 474.68,399.16 475.22,397.46 475.75,395.85 476.29,394.32 476.83,392.88 477.37,391.53 477.91,390.27 478.45,389.10 478.99,388.02 479.53,387.03 480.07,386.13 480.61,385.33 481.14,384.62 481.68,384.01 482.22,383.48 482.76,383.06 483.30,382.72 483.84,382.47 484.38,382.32 484.92,382.26 485.46,382.28 486.00,382.39 486.53,382.59 487.07,382.87 487.61,383.24 488.15,383.68 488.69,384.20 489.23,384.80 489.77,385.47 490.31,386.21 490.85,387.01 491.38,387.88 491.92,388.81 492.46,389.79 493.00,390.83 493.54,391.92 494.08,393.05 494.62,394.23 495.16,395.45 495.70,396.70 496.24,397.98 496.77,399.30 497.31,400.64 497.85,402.01 498.39,403.40 498.93,404.80 499.47,406.22 500.01,407.66 500.55,409.10 501.09,410.56 501.63,412.02 502.16,413.48 502.70,414.94 503.24,416.40 503.78,417.85 504.32,419.30 504.86,420.74 505.40,422.17 505.94,423.58 506.48,424.98 507.02,426.37 507.55,427.73 508.09,429.08 508.63,430.40 509.17,431.70 509.71,432.98 510.25,434.23 510.79,435.45 511.33,436.64 511.87,437.80 512.41,438.93 512.94,440.02 513.48,441.08 514.02,442.11 514.56,443.09 515.10,444.04 515.64,444.96 516.18,445.83 516.72,446.66 517.26,447.45 517.79,448.20 518.33,448.91 518.87,449.58 519.41,450.20 519.95,450.78 520.49,451.32 521.03,451.81 521.57,452.25 522.11,452.66 522.65,453.02 523.18,453.33 523.72,453.60 524.26,453.83 524.80,454.01 525.34,454.14 525.88,454.24 526.42,454.29 526.96,454.29 527.50,454.26 528.04,454.18 528.57,454.06 529.11,453.91 529.65,453.71 530.19,453.47 530.73,453.19 531.27,452.88 531.81,452.53 532.35,452.14 532.89,451.72 533.43,451.27 533.96,450.78 534.50,450.26 535.04,449.71 535.58,449.13 536.12,448.52 536.66,447.88 537.20,447.22 537.74,446.53 538.28,445.81 538.81,445.07 539.35,444.30 539.89,443.52 540.43,442.71 540.97,441.88 541.51,441.03 542.05,440.16 542.59,439.28 543.13,438.37 543.67,437.46 544.20,436.52 544.74,435.58 545.28,434.62 545.82,433.65 546.36,432.67 546.90,431.68 547.44,430.69 547.98,429.68 548.52,428.67 549.06,427.66 549.59,426.64 550.13,425.62 550.67,424.60 551.21,423.57 551.75,422.55 552.29,421.53 552.83,420.51 553.37,419.50 553.91,418.49 554.45,417.48 554.98,416.49 555.52,415.50 556.06,414.52 556.60,413.56 557.14,412.60 557.68,411.66 558.22,410.73 558.76,409.82 559.30,408.93 559.84,408.05 560.37,407.19 560.91,406.36 561.45,405.54 561.99,404.75 562.53,403.98 563.07,403.24 563.61,402.53 564.15,401.84 564.69,401.18 565.22,400.55 565.76,399.96 566.30,399.40 566.84,398.87 567.38,398.38 567.92,397.92 568.46,397.50 569.00,397.12 569.54,396.79 570.08,396.49 570.61,396.24 571.15,396.04 571.69,395.87 572.23,395.76 572.77,395.69 573.31,395.67 573.85,395.70 574.39,395.77 574.93,395.90 575.47,396.08 576.00,396.30 576.54,396.58 577.08,396.91 577.62,397.29 578.16,397.72 578.70,398.20 579.24,398.73 579.78,399.32 580.32,399.95 580.86,400.64 581.39,401.37 581.93,402.15 582.47,402.98 583.01,403.86 583.55,404.79 584.09,405.76 584.63,406.78 585.17,407.85 585.71,408.95 586.24,410.10 586.78,411.30 587.32,412.53 587.86,413.80 588.40,415.10 588.94,416.45 589.48,417.82 590.02,419.23 590.56,420.67 591.10,422.14 591.63,423.64 592.17,425.16 592.71,426.71 593.25,428.27 593.79,429.86 594.33,431.46 594.87,433.08 595.41,434.70 595.95,436.34 596.49,437.98 597.02,439.63 597.56,441.28 598.10,442.92 598.64,444.57 599.18,446.20 599.72,447.82 600.26,449.43 600.80,451.03 601.34,452.60 601.88,454.15 602.41,455.67 602.95,457.16 603.49,458.62 604.03,460.04 604.57,461.42 605.11,462.75 605.65,464.04 606.19,465.27 606.73,466.44 607.27,467.55 607.80,468.60 608.34,469.57 608.88,470.48 609.42,471.30 609.96,472.05 610.50,472.71 611.04,473.28 611.58,473.77 612.12,474.17 612.65,474.47 613.19,474.67 613.73,474.78 614.27,474.78 614.81,474.69 615.35,474.49 615.89,474.18 616.43,473.78 616.97,473.27 617.51,472.65 618.04,471.92 618.58,471.09 619.12,470.16 619.66,469.11 620.20,467.97 620.74,466.71 621.28,465.36 621.82,463.90 622.36,462.34 622.90,460.68 623.43,458.93 623.97,457.08 624.51,455.13 625.05,453.10 625.59,450.97 626.13,448.76 626.67,446.47 627.21,444.10 627.75,441.66 628.29,439.14 628.82,436.55 629.36,433.90 629.90,431.19 630.44,428.43 630.98,425.61 631.52,422.75 632.06,419.84 632.60,416.91 633.14,413.94 633.68,410.95 634.21,407.94 634.75,404.91 635.29,401.89 635.83,398.86 636.37,395.84 636.91,392.83 637.45,389.85 637.99,386.90 638.53,383.98 639.06,381.11 639.60,378.29 640.14,375.53 640.68,372.84 641.22,370.22 641.76,367.70 642.30,365.27 642.84,362.94 643.38,360.73 643.92,358.64 644.45,356.69 644.99,354.88 645.53,353.22 646.07,351.73 646.61,350.42 647.15,349.28 647.69,348.34 648.23,347.60 648.77,347.06 649.31,346.74 649.84,346.63 650.38,346.75 650.92,347.09 651.46,347.65 652.00,348.45 652.54,349.48 653.08,350.74 653.62,352.22 654.16,353.94 654.70,355.89 655.23,358.06 655.77,360.45 656.31,363.05 656.85,365.87 657.39,368.89 657.93,372.11 658.47,375.52 659.01,379.11 659.55,382.88 660.08,386.81 660.62,390.89 661.16,395.11 661.70,399.45 662.24,403.92 662.78,408.48 663.32,413.13 663.86,417.84 664.40,422.62 664.94,427.42 665.47,432.25 666.01,437.08 666.55,441.88 667.09,446.65 667.63,451.35 668.17,455.97 668.71,460.49 669.25,464.87 669.79,469.10 670.33,473.15 670.86,477.00 671.40,480.61 671.94,483.96 672.48,487.02 673.02,489.77 673.56,492.17 674.10,494.19 674.64,495.80 675.18,496.96 675.72,497.66 676.25,497.84 676.79,497.48 677.33,496.54 677.87,494.98 678.41,492.77 678.95,489.87 679.49,486.24 680.03,481.84 680.57,476.63 681.11,470.57 681.64,463.61 682.18,455.72 682.72,446.85 683.26,436.96 683.80,426.00" fill="none" stroke="#0000ff" stroke-width="2.45" stroke-linejoin="round" stroke-linecap="round" clip-path="url(#c3)"/>
<rect x="170.1" y="0.6" width="399.1" height="25.9" fill="#fff" stroke="#262626" stroke-width="1.25"/>
<path d="M175.5,13.5H232.8" stroke="#ff0000" stroke-width="2.45"/>
<text x="237.3" y="18.7" font-size="15.4">After optimization</text>
<path d="M368.7,13.5H425.8" stroke="#0000ff" stroke-width="2.45"/>
<text x="430.3" y="18.7" font-size="15.4">Before optimization</text>
<path d="M180.35,263.30H184.16V267.10H180.35ZM186.08,263.30H189.76V267.10H186.08ZM244.10,263.30H247.91V267.10H244.10ZM249.83,263.30H253.51V267.10H249.83ZM533.22,263.30H537.03V267.10H533.22ZM538.95,263.30H542.63V267.10H538.95ZM597.25,263.30H601.07V267.10H597.25ZM602.99,263.30H606.67V267.10H602.99ZM180.35,548.60H184.16V552.40H180.35ZM186.08,548.60H189.76V552.40H186.08ZM244.10,548.60H247.91V552.40H244.10ZM249.83,548.60H253.51V552.40H249.83ZM533.22,548.60H537.03V552.40H533.22ZM538.95,548.60H542.63V552.40H538.95ZM597.25,548.60H601.07V552.40H597.25ZM602.99,548.60H606.67V552.40H602.99Z" fill="#fff"/>
</g>
</svg>
</body></html>
